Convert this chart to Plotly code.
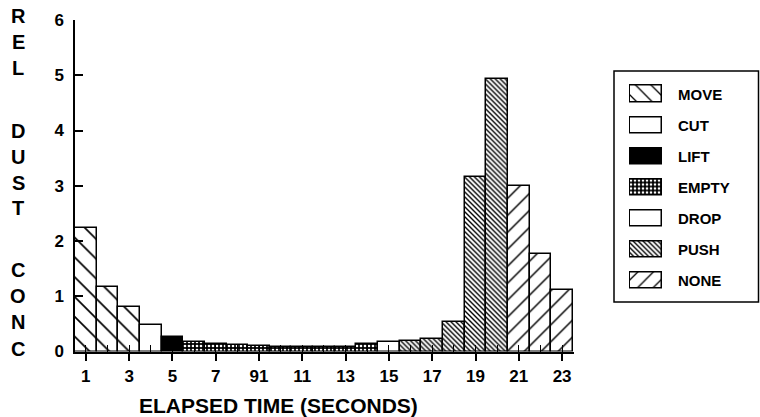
import plotly.graph_objects as go

# ---------------- data ----------------
seconds = list(range(1, 24))
rel_dust_conc = [2.24, 1.17, 0.80, 0.48, 0.27, 0.18, 0.14, 0.12, 0.10, 0.09, 0.09, 0.08,
                 0.08, 0.13, 0.17, 0.19, 0.23, 0.54, 3.15, 4.93, 3.00, 1.77, 1.12]
activity = (["MOVE"] * 3 + ["CUT"] + ["LIFT"] + ["EMPTY"] * 9 + ["DROP"]
            + ["PUSH"] * 5 + ["NONE"] * 3)
legend_order = ["MOVE", "CUT", "LIFT", "EMPTY", "DROP", "PUSH", "NONE"]
x_tick_values = [1, 3, 5, 7, 9, 11, 13, 15, 17, 19, 21, 23]
x_tick_labels = ["1", "3", "5", "7", "91", "11", "13", "15", "17", "19", "21", "23"]
y_title_words = ["REL", "DUST", "CONC"]

# ---------------- styles ----------------
W, H = 760, 417
FONT = "Liberation Sans"


def fx(px):
    return px / W


def fy(py):
    return 1 - py / H


def marker_style(name, legend=False):
    line = dict(color="black", width=1.5)
    if name in ("CUT", "DROP"):
        return dict(color="white", line=line)
    if name == "LIFT":
        return dict(color="black", line=line)
    if name == "MOVE":
        pat = dict(shape="\\", size=11 if legend else 14, solidity=0.12,
                   fgcolor="black", bgcolor="white", fillmode="replace")
    elif name == "NONE":
        pat = dict(shape="/", size=11 if legend else 12, solidity=0.12,
                   fgcolor="black", bgcolor="white", fillmode="replace")
    elif name == "PUSH":
        pat = dict(shape="\\", size=3.5, solidity=0.4,
                   fgcolor="black", bgcolor="white", fillmode="replace")
    else:  # EMPTY
        pat = dict(shape=".", size=4, solidity=0.35,
                   fgcolor="white", bgcolor="black", fillmode="replace")
    return dict(color="white", pattern=pat, line=line)


fig = go.Figure()

# main bars
for name in legend_order:
    xs = [s for s, a in zip(seconds, activity) if a == name]
    ys = [v for v, a in zip(rel_dust_conc, activity) if a == name]
    fig.add_trace(go.Bar(x=xs, y=ys, width=1.0, name=name, showlegend=False,
                         marker=marker_style(name), xaxis="x", yaxis="y"))

# custom legend swatches
for i, name in enumerate(legend_order):
    fig.add_trace(go.Bar(x=[1], y=[i], base=0, width=0.52, orientation="h",
                         showlegend=False, marker=marker_style(name, legend=True),
                         xaxis="x2", yaxis="y2", hoverinfo="skip"))

annotations = []
for i, name in enumerate(legend_order):
    annotations.append(dict(text=name, xref="paper", yref="y2", x=fx(676), y=i,
                            xanchor="left", yanchor="middle", showarrow=False,
                            font=dict(family=FONT, size=15, color="black", weight="bold")))

# vertical stacked y title
letter_y = {"REL": [16, 42, 68], "DUST": [131, 157, 183, 208], "CONC": [270, 296, 322, 349]}
for word in y_title_words:
    for ch, py in zip(word, letter_y[word]):
        annotations.append(dict(text=ch, xref="paper", yref="paper", x=fx(18), y=fy(py),
                                xanchor="center", yanchor="middle", showarrow=False,
                                font=dict(family=FONT, size=20, color="black", weight="bold")))

annotations.append(dict(text="ELAPSED TIME (SECONDS)", xref="paper", yref="paper",
                        x=fx(278), y=fy(405), xanchor="center", yanchor="middle",
                        showarrow=False,
                        font=dict(family=FONT, size=21, color="black", weight="bold")))

fig.update_layout(
    width=W, height=H,
    margin=dict(l=0, r=0, t=0, b=0, autoexpand=False),
    paper_bgcolor="white", plot_bgcolor="white",
    bargap=0,
    showlegend=False,
    font=dict(family=FONT, size=17, color="black", weight="bold"),
    xaxis=dict(domain=[fx(75), fx(574)], range=[0.5, 23.55], anchor="y",
               automargin=False,
               tickmode="array", tickvals=x_tick_values, ticktext=x_tick_labels,
               ticks="outside", ticklen=8, tickwidth=1.5, tickcolor="black",
               minor=dict(ticks="inside", dtick=1, tick0=0, ticklen=7,
                          tickwidth=1.2, tickcolor="black"),
               showline=True, linecolor="black", linewidth=1.5,
               showgrid=False, zeroline=False,
               tickfont=dict(family=FONT, size=17, color="black", weight="bold")),
    yaxis=dict(domain=[fy(351.5), fy(20)], range=[0, 6], anchor="x",
               automargin=False,
               tickmode="linear", tick0=0, dtick=1,
               ticks="inside", ticklen=8, tickwidth=1.5, tickcolor="black",
               showline=True, linecolor="black", linewidth=1.5,
               showgrid=False, zeroline=False, ticklabelstandoff=6,
               tickfont=dict(family=FONT, size=17, color="black", weight="bold")),
    xaxis2=dict(domain=[fx(629), fx(663)], range=[-0.03, 1.03], anchor="y2",
                visible=False, fixedrange=True, automargin=False),
    yaxis2=dict(domain=[fy(296), fy(78.5)], range=[6.5, -0.5], anchor="x2",
                visible=False, fixedrange=True, automargin=False),
    annotations=annotations,
    shapes=[dict(type="rect", xref="paper", yref="paper",
                 x0=fx(614), x1=fx(758.5), y0=fy(302), y1=fy(71),
                 line=dict(color="black", width=1.5), fillcolor="rgba(0,0,0,0)")],
)

fig.write_html("out.html",
               config={"displayModeBar": False},
               post_script="document.body.style.margin='0';document.body.style.padding='0';")
